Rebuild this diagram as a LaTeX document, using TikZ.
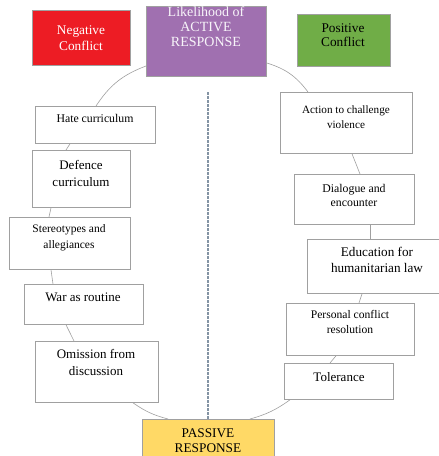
\documentclass[tikz,border=0pt]{standalone}
\usepackage{fontspec}
\setmainfont{Liberation Serif}
\definecolor{negred}{HTML}{ED1C24}
\definecolor{actpurple}{HTML}{A070B0}
\definecolor{posgreen}{HTML}{70AD47}
\definecolor{pasyellow}{HTML}{FFD966}
\definecolor{edgegrey}{HTML}{A0A0A0}
\definecolor{dashgrey}{HTML}{8494A4}
\begin{document}
\begin{tikzpicture}[x=1pt,y=-1pt,
  box/.style={draw=edgegrey,line width=0.8pt,fill=white,inner sep=0pt,anchor=north west},
  txt/.style={inner sep=0pt,align=center,anchor=center},
  conn/.style={draw=edgegrey,line width=0.6pt}]
\useasboundingbox (0,0) rectangle (439,456);
\fill[white] (0,0) rectangle (439,456);

% boxes
\node[box,fill=negred,minimum width=98pt,minimum height=55pt] (neg) at (32,10) {};
\node[box,fill=actpurple,minimum width=120pt,minimum height=70pt] (act) at (146,6) {};
\node[box,fill=posgreen,minimum width=93pt,minimum height=52pt] (pos) at (297,14) {};

\node[box,minimum width=120pt,minimum height=37pt] (hate) at (35,106) {};
\node[box,minimum width=98pt,minimum height=57pt] (def) at (32,150) {};
\node[box,minimum width=121pt,minimum height=52pt] (ster) at (9,217) {};
\node[box,minimum width=119pt,minimum height=40pt] (war) at (24,284) {};
\node[box,minimum width=123pt,minimum height=61pt] (omi) at (35,341) {};
\node[box,fill=pasyellow,minimum width=132pt,minimum height=50pt] (pas) at (142,419) {};

\node[box,minimum width=132pt,minimum height=61pt] (actn) at (280,92) {};
\node[box,minimum width=120pt,minimum height=50pt] (dia) at (294,174) {};
\node[box,minimum width=140pt,minimum height=54pt] (edu) at (307,239) {};
\node[box,minimum width=128pt,minimum height=52pt] (per) at (286,303) {};
\node[box,minimum width=109pt,minimum height=36pt] (tol) at (284,363) {};

% connectors along the cycle
\draw[conn] ([yshift=-60pt]act.north west) to[bend right=18] ([xshift=61pt]hate.north west);
\draw[conn] ([xshift=35pt]hate.south west) -- ([xshift=34pt]def.north west);
\draw[conn] ([xshift=19pt]def.south west) -- ([xshift=40pt]ster.north west);
\draw[conn] ([xshift=42pt]ster.south west) -- ([xshift=29pt]war.north west);
\draw[conn] ([xshift=42pt]war.south west) -- ([xshift=39pt]omi.north west);
\draw[conn] ([xshift=98pt]omi.south west) to[bend right=10] ([xshift=26pt]pas.north west);
\draw[conn] ([xshift=108pt]pas.north west) to[bend right=10] ([xshift=6pt]tol.south west);
\draw[conn] ([xshift=46pt]tol.north west) -- ([xshift=50pt]per.south west);
\draw[conn] ([xshift=73pt]per.north west) -- ([xshift=55pt]edu.south west);
\draw[conn] ([xshift=76pt]dia.south west) -- ([xshift=63pt]edu.north west);
\draw[conn] ([xshift=72pt]actn.south west) -- ([xshift=66pt]dia.north west);
\draw[conn] ([xshift=28pt]actn.north west) to[bend right=18] ([yshift=-57pt]act.north east);

% dashed divider
\coordinate (dtop) at (208,92);
\draw[dashgrey,line width=1.2pt,dash pattern=on 2.5pt off 1.5pt] (dtop) -- (dtop |- pas.north);

% texts
\node[txt,text=white,font=\fontsize{13.3}{16}\selectfont] (negt) at (81,38) {Negative\\Conflict};
\begin{scope}
\clip (act.north west) rectangle (act.south east);
\node[txt,text=white!92!actpurple,font=\fontsize{14}{15}\selectfont,anchor=north] (actt) at (206,6) {Likelihood of\\ACTIVE\\RESPONSE};
\end{scope}
\node[txt,font=\fontsize{13.3}{14}\selectfont] (post) at (343,35) {Positive\\Conflict};

\node[txt,font=\fontsize{11.8}{14}\selectfont] (hatet) at (95,118) {Hate curriculum};
\node[txt,font=\fontsize{13}{17}\selectfont] (deft) at (81,173) {Defence\\curriculum};
\node[txt,font=\fontsize{11.5}{16}\selectfont] (stert) at (69,238) {Stereotypes and\\allegiances};
\node[txt,font=\fontsize{13}{16}\selectfont] (wart) at (83,297) {War as routine};
\node[txt,font=\fontsize{13}{17}\selectfont] (omit) at (96,362) {Omission from\\discussion};
\node[txt,font=\fontsize{13.3}{15}\selectfont] (past) at (208,441) {PASSIVE\\RESPONSE};

\node[txt,font=\fontsize{11.2}{15}\selectfont] (actnt) at (346,117) {Action to challenge\\violence};
\node[txt,font=\fontsize{11.8}{14}\selectfont] (diat) at (354,195) {Dialogue and\\encounter};
\node[txt,font=\fontsize{13.2}{16}\selectfont] (edut) at (377,260) {Education for\\humanitarian law};
\node[txt,font=\fontsize{11.6}{15}\selectfont] (pert) at (350,322) {Personal conflict\\resolution};
\node[txt,font=\fontsize{13}{15}\selectfont] (tolt) at (339,377) {Tolerance};
\end{tikzpicture}
\end{document}
